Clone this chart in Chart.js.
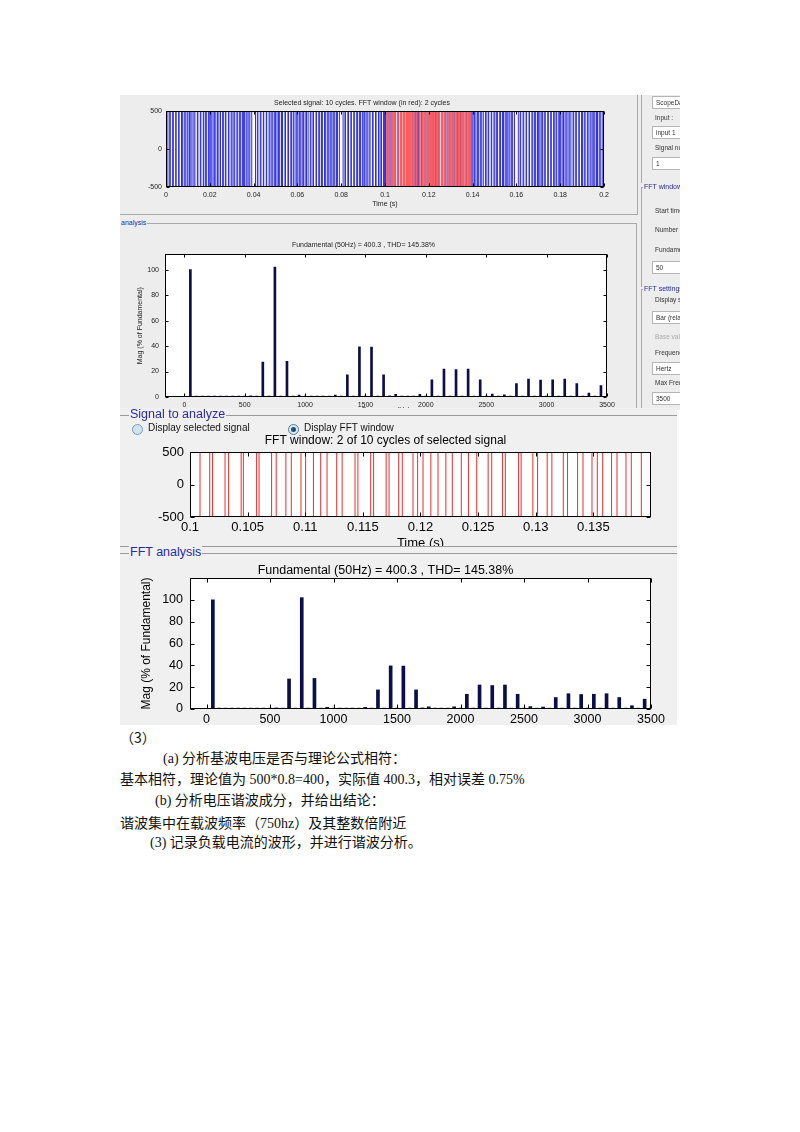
<!DOCTYPE html>
<html lang="zh">
<head>
<meta charset="UTF-8">
<title>FFT analysis</title>
<script src="https://cdn.jsdelivr.net/npm/chart.js"></script>
<style>
  body { margin: 0; width: 800px; height: 1132px; background: #fff; position: relative; overflow: hidden;
         font-family: "Liberation Sans", Arial, sans-serif; }
  .abs { position: absolute; }
  .shot1 { left: 120px; top: 95px; width: 560px; height: 315px; background: #ededed; overflow: hidden; }
  .shot2 { left: 120px; top: 408px; width: 557px; height: 317px; background: #f0f0f0; overflow: hidden; }
  .hl { position: absolute; height: 0; border-top: 1px solid #a8a8a8; }
  .vl { position: absolute; width: 0; border-left: 1px solid #a8a8a8; }
  .small { position: absolute; font-size: 6.5px; color: #333; white-space: nowrap; }
  .box { position: absolute; background: #fff; border: 1px solid #b5b5b5; font-size: 6.5px; color: #333;
         padding-left: 3px; box-sizing: border-box; white-space: nowrap; line-height: 11px; }
  .grp { position: absolute; color: #2a2aa0; white-space: nowrap; background: inherit; padding: 0 1px; }
  canvas { position: absolute; }
  .doc { position: absolute; font-family: "Liberation Serif", "Noto Sans CJK SC", serif; font-size: 14px;
         color: #111; white-space: nowrap; line-height: 18px; }
  .fw { font-family: "Noto Sans CJK SC", sans-serif; }
</style>
</head>
<body>

<!-- screenshot 1 -->
<div class="abs shot1">
  <canvas id="selChart" width="517" height="117" style="left:0;top:2px"></canvas>
  <div class="vl" style="left:517px;top:0;height:120px"></div>
  <div class="hl" style="left:0;top:119px;width:517px"></div>
  <canvas id="fft1Chart" width="517" height="184" style="left:0;top:137px"></canvas>
  <div class="hl" style="left:0;top:128px;width:516px"></div>
  <div class="grp" style="left:0;top:124px;font-size:7px;background:#ededed">analysis</div>
  <div class="vl" style="left:516px;top:128px;height:200px"></div>

  <!-- right-hand settings column -->
  <div class="vl" style="left:521px;top:0;height:88px"></div>
  <div class="box" style="left:532px;top:1px;width:40px;height:13px">ScopeData</div>
  <div class="small" style="left:535px;top:19px">Input :</div>
  <div class="box" style="left:532px;top:31px;width:40px;height:13px">input 1</div>
  <div class="small" style="left:535px;top:49px">Signal number</div>
  <div class="box" style="left:532px;top:62px;width:40px;height:13px">1</div>
  <div class="hl" style="left:521px;top:92px;width:40px"></div>
  <div class="grp" style="left:523px;top:88px;font-size:7px;background:#ededed">FFT window</div>
  <div class="vl" style="left:521px;top:92px;height:100px"></div>
  <div class="small" style="left:535px;top:112px">Start time</div>
  <div class="small" style="left:535px;top:131px">Number of cycles</div>
  <div class="small" style="left:535px;top:151px">Fundamental</div>
  <div class="box" style="left:532px;top:166px;width:40px;height:13px">50</div>
  <div class="hl" style="left:521px;top:194px;width:40px"></div>
  <div class="grp" style="left:523px;top:190px;font-size:7px;background:#ededed">FFT settings</div>
  <div class="vl" style="left:521px;top:194px;height:130px"></div>
  <div class="small" style="left:535px;top:201px">Display style</div>
  <div class="box" style="left:532px;top:216px;width:40px;height:13px">Bar (relative)</div>
  <div class="small" style="left:535px;top:238px;color:#aaa">Base value</div>
  <div class="small" style="left:535px;top:254px">Frequency axis</div>
  <div class="box" style="left:532px;top:267px;width:40px;height:13px">Hertz</div>
  <div class="small" style="left:535px;top:284px">Max Frequency</div>
  <div class="box" style="left:532px;top:297px;width:40px;height:13px">3500</div>
</div>

<!-- screenshot 2 -->
<div class="abs shot2">
  <canvas id="winChart" width="557" height="120" style="left:0;top:24px"></canvas>
  <div class="hl" style="left:0;top:7px;width:557px;border-color:#9a9a9a"></div>
  <div class="grp" style="left:9px;top:-1px;font-size:12.5px;background:#f0f0f0">Signal to analyze</div>
  <div class="abs" style="left:12px;top:16px;width:9px;height:9px;border-radius:50%;border:1px solid #7a9ab5;background:#cfe4f3"></div>
  <div class="abs" style="left:28px;top:14px;font-size:10px;color:#111;white-space:nowrap">Display selected signal</div>
  <div class="abs" style="left:168px;top:16px;width:9px;height:9px;border-radius:50%;border:1px solid #5a7a95;background:#dbe9f4"></div>
  <div class="abs" style="left:171px;top:19px;width:5px;height:5px;border-radius:50%;background:#1f4f7a"></div>
  <div class="abs" style="left:184px;top:14px;font-size:10px;color:#111;white-space:nowrap">Display FFT window</div>

  <div class="abs" style="left:0;top:138px;width:557px;height:179px;background:#f0f0f0;border-top:1px solid #9a9a9a"></div>
  <canvas id="fft2Chart" width="557" height="165" style="left:0;top:152px"></canvas>
  <div class="hl" style="left:0;top:145px;width:557px;border-color:#9a9a9a"></div>
  <div class="grp" style="left:9px;top:137px;font-size:12.5px;background:#f0f0f0">FFT analysis</div>
</div>

<!-- document text -->
<div class="doc" style="left:120px;top:728px"><span class="fw">（3）</span></div>
<div class="doc" style="left:163px;top:750px">(a) 分析基波电压是否与理论公式相符：</div>
<div class="doc" style="left:120px;top:771px">基本相符，理论值为 500*0.8=400，实际值 400.3，相对误差 0.75%</div>
<div class="doc" style="left:155px;top:792px">(b) 分析电压谐波成分，并给出结论：</div>
<div class="doc" style="left:120px;top:813px">谐波集中在载波频率<span class="fw">（</span>750hz<span class="fw">）</span>及其整数倍附近</div>
<div class="doc" style="left:150px;top:834px">(3) 记录负载电流的波形，并进行谐波分析。</div>

<script>
// harmonic spectrum, % of fundamental
const harmFreq = [50, 100, 150, 200, 250, 300, 350, 400, 450, 500, 550, 600, 650, 700, 750, 800, 850, 900, 950, 1000,
                  1050, 1100, 1150, 1200, 1250, 1300, 1350, 1400, 1450, 1500, 1550, 1600, 1650, 1700, 1750, 1800, 1850, 1900, 1950, 2000,
                  2050, 2100, 2150, 2200, 2250, 2300, 2350, 2400, 2450, 2500, 2550, 2600, 2650, 2700, 2750, 2800, 2850, 2900, 2950, 3000,
                  3050, 3100, 3150, 3200, 3250, 3300, 3350, 3400, 3450, 3500];
const harmMag = [100, 0.8, 0.8, 0.8, 0.8, 0.8, 0.8, 0.8, 0.8, 0.8, 1, 0.8, 27.5, 0.8, 102, 0.8, 28, 0.8, 1.5, 0.8,
                 0.8, 0.8, 0.8, 0.8, 1.5, 0.8, 17.5, 0.8, 39.5, 0.8, 39.3, 0.8, 17.5, 1, 2, 0.8, 0.8, 0.8, 2, 0.8,
                 13.5, 0.8, 22, 0.8, 21.5, 0.8, 22, 0.8, 13.5, 0.8, 2.2, 0.8, 1.8, 0.8, 10.5, 0.8, 14, 0.8, 13.3, 0.8,
                 13.5, 0.8, 14, 0.8, 10.5, 0.8, 3, 0.8, 9, 0.8];

const freqTicks = [0, 500, 1000, 1500, 2000, 2500, 3000, 3500];
const freqLabels = ['0', '500', '1000', '1500', '2000', '2500', '3000', '3500'];
const magTicks = [0, 20, 40, 60, 80, 100];
const voltTicks = [-500, 0, 500];
const selTicks = [0, 0.02, 0.04, 0.06, 0.08, 0.1, 0.12, 0.14, 0.16, 0.18, 0.2];
const selLabels = ['0', '0.02', '0.04', '0.06', '0.08', '0.1', '0.12', '0.14', '0.16', '0.18', '0.2'];
const winTicks = [0.1, 0.105, 0.11, 0.115, 0.12, 0.125, 0.13, 0.135];
const winLabels = ['0.1', '0.105', '0.11', '0.115', '0.12', '0.125', '0.13', '0.135'];

// switching instants inside the FFT window (0.1 .. 0.14 s)
const winEdges = [0.10087, 0.10171, 0.10196, 0.10304, 0.10335, 0.10444, 0.10463, 0.10578, 0.10599, 0.10708,
                  0.10748, 0.10832, 0.10879, 0.10963, 0.11003, 0.11071, 0.11134, 0.11189, 0.11273, 0.11320,
                  0.11432, 0.11457, 0.11568, 0.11593, 0.11702, 0.11727, 0.11811, 0.11842, 0.11935, 0.11975,
                  0.12022, 0.12090, 0.12152, 0.12220, 0.12276, 0.12354, 0.12416, 0.12488, 0.12587, 0.12618,
                  0.12711, 0.12736, 0.12851, 0.12873, 0.12975, 0.13016, 0.13099, 0.13140, 0.13239, 0.13276,
                  0.13363, 0.13410, 0.13488, 0.13534, 0.13581, 0.13658, 0.13705, 0.13783, 0.13829, 0.13916];
const startLevel = 500;

// step trace from a list of switching times
function stepPoints(t0, t1, edges) {
    const pts = [{ x: t0, y: startLevel }];
    let v = startLevel;
    edges.forEach(t => { v = -v; pts.push({ x: t, y: v }); });
    pts.push({ x: t1, y: v });
    return pts;
}

// the selected signal is the same 2-cycle window seen 5 times over 0..0.2 s
let selEdges = [];
for (let k = 0; k < 5; k++) {
    selEdges = selEdges.concat(winEdges.map(t => t - 0.1 + k * 0.04));
}

// white plot box, black frame and inward tick marks like a MATLAB axes
const matlabAxes = {
    id: 'matlabAxes',
    beforeDraw(chart) {
        const a = chart.chartArea, c = chart.ctx;
        c.save();
        c.fillStyle = '#fff';
        c.fillRect(a.left, a.top, a.right - a.left, a.bottom - a.top);
        c.restore();
    },
    afterDraw(chart, args, opts) {
        const a = chart.chartArea, c = chart.ctx, len = opts.tick;
        const l = Math.round(a.left) + 0.5, r = Math.round(a.right) - 0.5;
        const t = Math.round(a.top) + 0.5, b = Math.round(a.bottom) - 0.5;
        c.save();
        c.strokeStyle = '#000';
        c.lineWidth = 1;
        c.strokeRect(l, t, r - l, b - t);
        c.beginPath();
        chart.scales.x.ticks.forEach(tk => {
            const p = Math.round(chart.scales.x.getPixelForValue(tk.value)) + 0.5;
            c.moveTo(p, b); c.lineTo(p, b - len);
            c.moveTo(p, t); c.lineTo(p, t + len);
        });
        chart.scales.y.ticks.forEach(tk => {
            const p = Math.round(chart.scales.y.getPixelForValue(tk.value)) + 0.5;
            c.moveTo(l, p); c.lineTo(l + len, p);
            c.moveTo(r, p); c.lineTo(r - len, p);
        });
        c.stroke();
        c.restore();
    }
};

function fixedTicks(vals) {
    return scale => { scale.ticks = vals.map(v => ({ value: v })); };
}

function axisX(min, max, vals, labels, o) {
    return {
        type: 'linear', min: min, max: max, offset: false,
        afterBuildTicks: fixedTicks(vals),
        afterFit: s => { s.height = o.h; },
        grid: { display: false, drawTicks: false }, border: { display: false },
        ticks: { autoSkip: false, maxRotation: 0, padding: o.pad, color: o.color || '#000',
                 font: { size: o.size, family: 'Liberation Sans' }, callback: (v, i) => labels[i] },
        title: { display: !!o.title, text: o.title, color: o.color || '#000', font: { size: o.size, family: 'Liberation Sans' },
                 padding: { top: 0, bottom: o.titlePad } }
    };
}

function axisY(min, max, vals, o) {
    return {
        min: min, max: max,
        afterBuildTicks: fixedTicks(vals),
        afterFit: s => { s.width = o.w; },
        grid: { display: false, drawTicks: false }, border: { display: false },
        ticks: { padding: o.pad, color: o.color || '#000', font: { size: o.size, family: 'Liberation Sans' } },
        title: { display: !!o.title, text: o.title, color: o.color || '#000', font: { size: o.titleSize || o.size, family: 'Liberation Sans' },
                 padding: { top: o.titlePad, bottom: 0 } }
    };
}

function titleOpt(text, size, top, bottom, color) {
    return { display: true, text: text, color: color || '#000',
             font: { size: size, weight: 'normal', family: 'Liberation Sans' }, padding: { top: top, bottom: bottom } };
}

function baseOptions(rightPad, title, tick) {
    return {
        responsive: false, animation: false, devicePixelRatio: 1,
        layout: { padding: { left: 0, right: rightPad, top: 0, bottom: 0 } },
        plugins: { legend: { display: false }, tooltip: { enabled: false }, title: title, matlabAxes: { tick: tick } }
    };
}

function barData() {
    return { datasets: [{ data: harmFreq.map((f, i) => ({ x: f, y: harmMag[i] })), backgroundColor: '#0d0d4a' }] };
}

// selected signal, whole 0..0.2 s with the FFT window in red on top
const selOpts = baseOptions(33, titleOpt('Selected signal: 10 cycles. FFT window (in red): 2 cycles', 7, 1.8, 3.8, '#222'), 3);
selOpts.scales = {
    x: axisX(0, 0.2, selTicks, selLabels, { h: 27, pad: 4, size: 7, color: '#222', title: 'Time (s)', titlePad: 5.8 }),
    y: axisY(-500, 500, voltTicks, { w: 46, pad: 4, size: 7, color: '#222' })
};
new Chart(document.getElementById('selChart'), {
    type: 'line',
    data: { datasets: [
        { data: stepPoints(0.1, 0.14, winEdges), stepped: true, borderColor: 'rgb(250,95,95)', borderWidth: 1.4, pointRadius: 0, order: 0 },
        { data: stepPoints(0, 0.2, selEdges), stepped: true, borderColor: 'rgb(45,45,225)', borderWidth: 1, pointRadius: 0, order: 1 }
    ] },
    options: selOpts,
    plugins: [matlabAxes]
});

// spectrum in the upper screenshot
const fft1Opts = baseOptions(30, titleOpt('Fundamental (50Hz) = 400.3 , THD= 145.38%', 7, 9, 5, '#222'), 3);
fft1Opts.scales = {
    x: axisX(-160, 3500, freqTicks, freqLabels, { h: 19, pad: 3.5, size: 7, color: '#222', title: 'Frequency (Hz)', titlePad: 1.8 }),
    y: axisY(0, 112, magTicks, { w: 45, pad: 6, size: 7, color: '#222', title: 'Mag (% of Fundamental)', titlePad: 16 })
};
const fft1Data = barData();
fft1Data.datasets[0].barThickness = 2;
new Chart(document.getElementById('fft1Chart'), { type: 'bar', data: fft1Data, options: fft1Opts, plugins: [matlabAxes] });

// FFT window only
const winOpts = baseOptions(26, titleOpt('FFT window: 2 of 10 cycles of selected signal', 12, 1, 4.6), 4);
winOpts.scales = {
    x: axisX(0.1, 0.14, winTicks, winLabels, { h: 35, pad: 3, size: 13, title: 'Time (s)', titlePad: 0.5 }),
    y: axisY(-500, 500, voltTicks, { w: 70, pad: 6, size: 13 })
};
new Chart(document.getElementById('winChart'), {
    type: 'line',
    data: { datasets: [
        { data: stepPoints(0.1, 0.14, winEdges), stepped: true, borderColor: 'rgb(235,45,45)', borderWidth: 1, pointRadius: 0 }
    ] },
    options: winOpts,
    plugins: [matlabAxes]
});

// spectrum in the lower screenshot
const fft2Opts = baseOptions(26, titleOpt('Fundamental (50Hz) = 400.3 , THD= 145.38%', 12.5, 3, 0), 4);
fft2Opts.scales = {
    x: axisX(-130, 3500, freqTicks, freqLabels, { h: 16, pad: 3, size: 12.5 }),
    y: axisY(0, 120, magTicks, { w: 70, pad: 7, size: 12.5, title: 'Mag (% of Fundamental)', titleSize: 12, titlePad: 19 })
};
const fft2Data = barData();
fft2Data.datasets[0].barThickness = 3;
new Chart(document.getElementById('fft2Chart'), { type: 'bar', data: fft2Data, options: fft2Opts, plugins: [matlabAxes] });
</script>
</body>
</html>
